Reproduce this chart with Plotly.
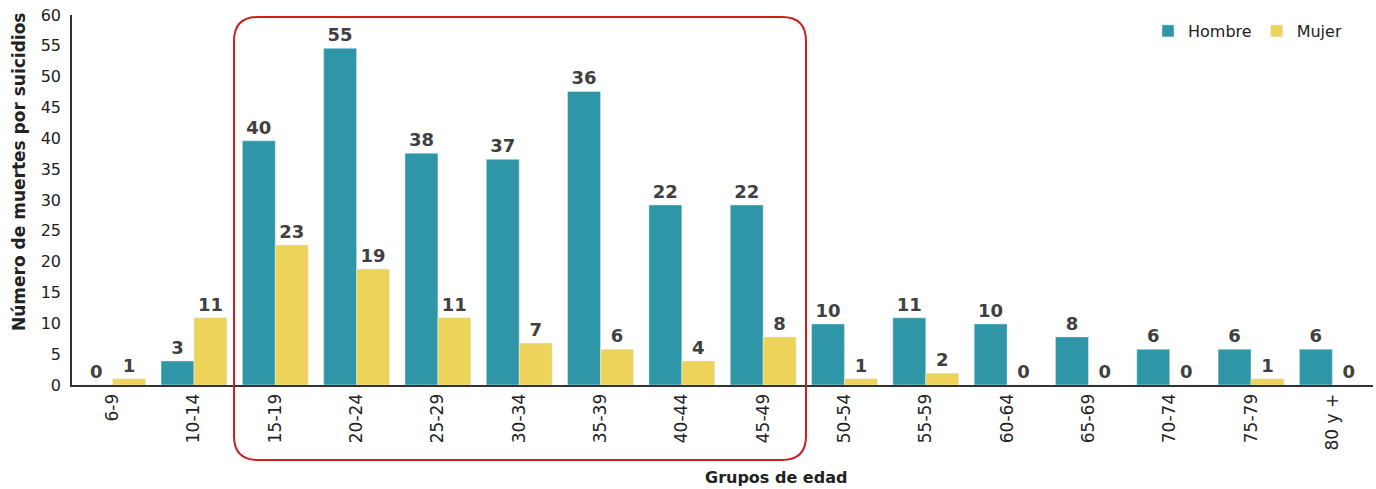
import plotly.graph_objects as go

# Grupos de edad y valores
grupos = ["6-9", "10-14", "15-19", "20-24", "25-29", "30-34", "35-39", "40-44",
          "45-49", "50-54", "55-59", "60-64", "65-69", "70-74", "75-79", "80 y +"]

hombre = [0, 3.9, 39.6, 54.6, 37.6, 36.6, 47.6, 29.2,
          29.2, 9.9, 10.9, 9.9, 7.8, 5.8, 5.8, 5.8]
mujer = [1.0, 10.9, 22.7, 18.8, 10.9, 6.8, 5.8, 3.9,
         7.8, 1.0, 1.9, 0, 0, 0, 1.0, 0]

# etiquetas tal como aparecen en el original
etiq_hombre = ["0", "3", "40", "55", "38", "37", "36", "22",
               "22", "10", "11", "10", "8", "6", "6", "6"]
etiq_mujer = ["1", "11", "23", "19", "11", "7", "6", "4",
              "8", "1", "2", "0", "0", "0", "1", "0"]

TEAL = "#2E96A7"
AMARILLO = "#EDD35A"
FUENTE = "DejaVu Sans"

fig = go.Figure()
fig.add_trace(go.Bar(
    x=grupos, y=hombre, name="Hombre", marker_color=TEAL,
    text=etiq_hombre, textposition="outside", cliponaxis=False,
    textfont=dict(family=FUENTE, size=18, color="#404040", weight="bold"),
))
fig.add_trace(go.Bar(
    x=grupos, y=mujer, name="Mujer", marker_color=AMARILLO,
    text=etiq_mujer, textposition="outside", cliponaxis=False,
    textfont=dict(family=FUENTE, size=18, color="#404040", weight="bold"),
))

# área de trazado en px: x 72..1373, y 15..385
L, R, T, B = 72, 1373, 15, 385


def px2paper(px, py):
    return (px - L) / (R - L), (B - py) / (B - T)


# rectángulo rojo redondeado (grupos 15-49)
x0, y0, x1, y1, r = 234, 17, 806, 460, 24
ax, ay = px2paper(x0, y0)
bx, by = px2paper(x1, y1)
rx = r / (R - L)
ry = r / (B - T)
path = (f"M {ax + rx},{ay} L {bx - rx},{ay} Q {bx},{ay} {bx},{ay - ry} "
        f"L {bx},{by + ry} Q {bx},{by} {bx - rx},{by} "
        f"L {ax + rx},{by} Q {ax},{by} {ax},{by + ry} "
        f"L {ax},{ay - ry} Q {ax},{ay} {ax + rx},{ay} Z")
fig.add_shape(type="path", path=path, xref="paper", yref="paper",
              line=dict(color="#CC1F1F", width=2), fillcolor="rgba(0,0,0,0)")

fig.add_annotation(
    text="<b>Número de muertes por suicidios</b>", textangle=-90,
    xref="paper", yref="paper", x=px2paper(19, 0)[0], y=px2paper(0, 172)[1],
    xanchor="center", yanchor="middle",
    showarrow=False, font=dict(family=FUENTE, size=17, color="#222"),
)
fig.add_annotation(
    text="<b>Grupos de edad</b>",
    xref="paper", yref="paper", x=px2paper(776, 0)[0], y=px2paper(0, 478)[1],
    xanchor="center", yanchor="middle",
    showarrow=False, font=dict(family=FUENTE, size=16, color="#222"),
)

fig.update_layout(
    width=1376, height=489,
    margin=dict(l=L, r=1376 - R, t=T, b=489 - B, autoexpand=False),
    plot_bgcolor="white", paper_bgcolor="white",
    barmode="group", bargap=0.19, bargroupgap=0,
    font=dict(family=FUENTE, size=16, color="#222"),
    legend=dict(orientation="h", x=px2paper(1148, 0)[0], y=px2paper(0, 31)[1],
                xanchor="left", yanchor="middle", font=dict(size=16),
                itemwidth=30, tracegroupgap=0),
    showlegend=True,
)
fig.update_yaxes(range=[0, 60], dtick=5, showgrid=False, zeroline=False,
                 showline=True, linecolor="#333", linewidth=1.5, automargin=False,
                 ticks="", ticklabelstandoff=6, tickfont=dict(size=16))
fig.update_xaxes(showline=True, linecolor="#333", linewidth=2, tickangle=-90,
                 automargin=False, ticks="", tickfont=dict(size=17))

# quitar el margen por defecto del <body> y la barra de herramientas
fig.write_html("out.html", config={"displayModeBar": False},
               post_script="document.body.style.margin='0';")
